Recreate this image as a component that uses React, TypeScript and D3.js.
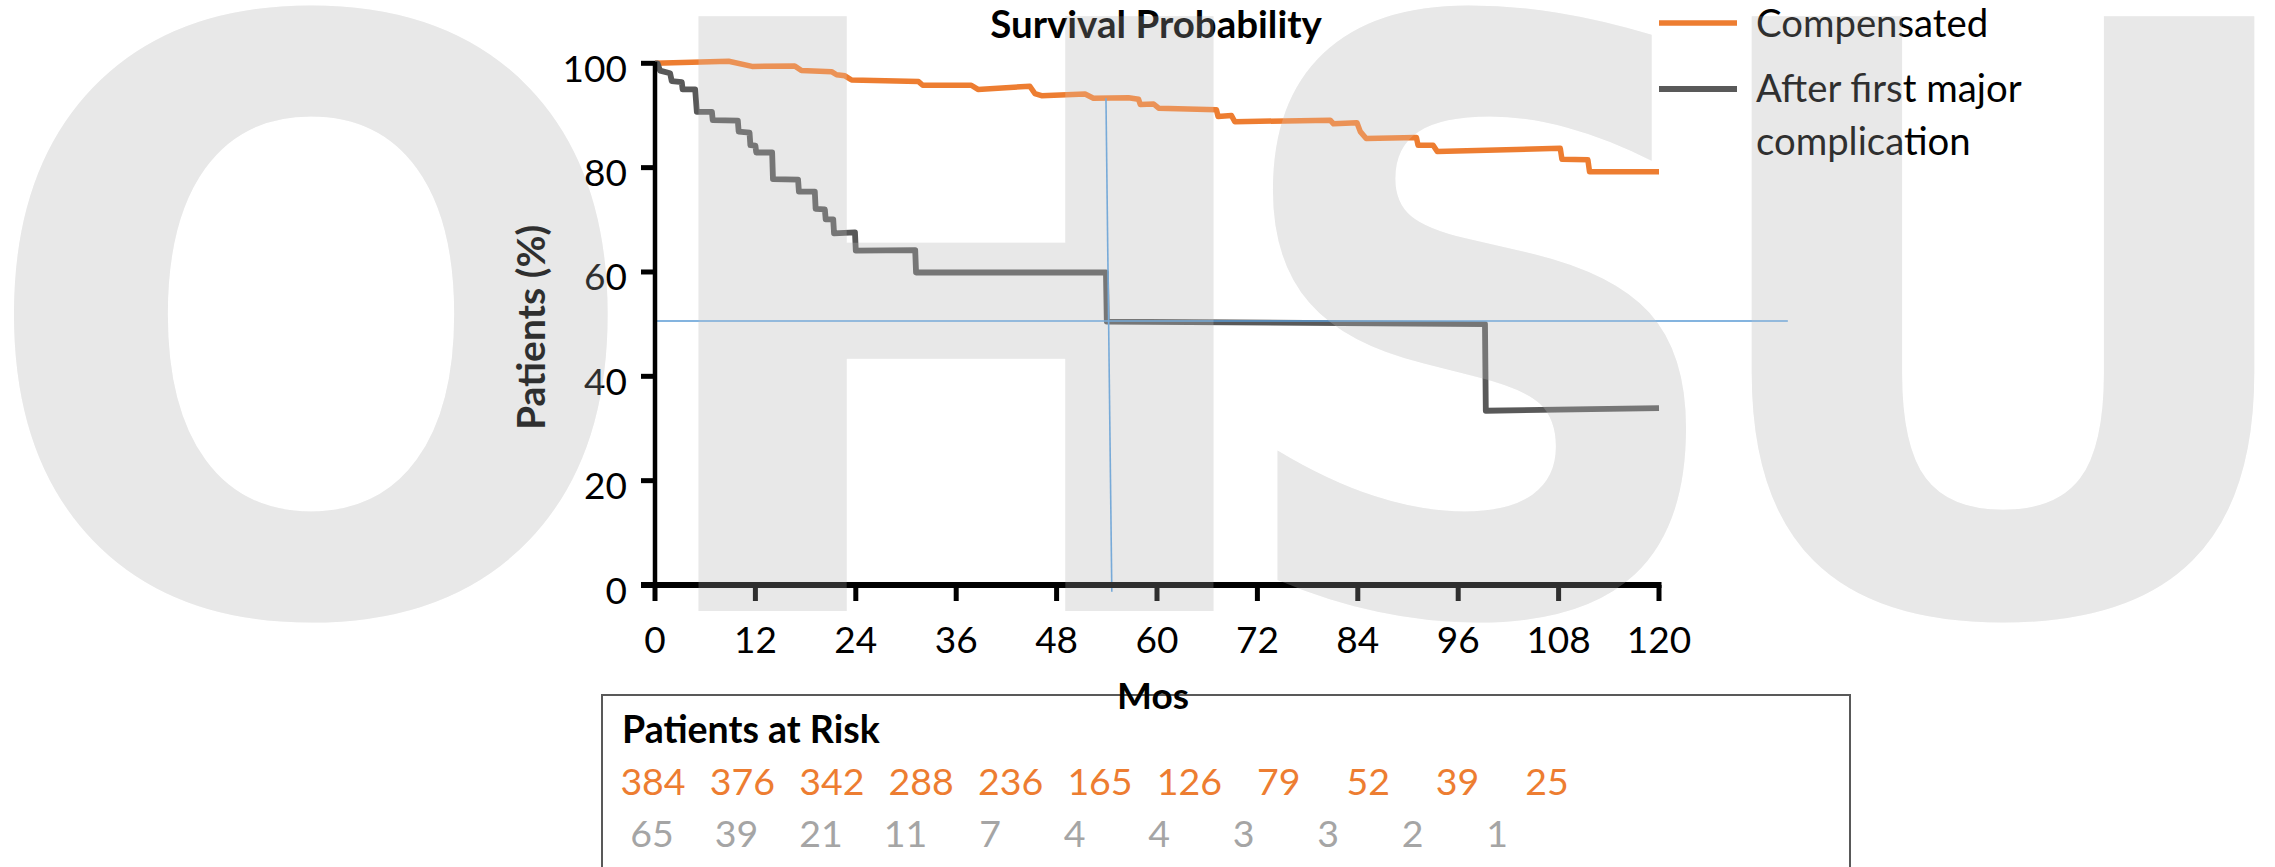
import React from 'react';
import * as d3 from 'd3';

// ---------- data ----------
const monthTicks = [0, 12, 24, 36, 48, 60, 72, 84, 96, 108, 120];
const percentTicks = [0, 20, 40, 60, 80, 100];

const seriesNames = ['Compensated', 'After first major complication'];

const compensatedMonths = [0, 8.8, 11.6, 16.7, 17.5, 21.1, 21.7, 22.7, 23.5, 31.5, 32.0, 37.8, 38.6, 44.8, 45.4, 46.2, 51.4, 52.4, 56.6, 57.8, 58.0, 59.6, 60.2, 67.1, 67.3, 68.9, 69.3, 80.7, 81.1, 83.9, 84.3, 85.0, 91.0, 91.2, 93.0, 93.5, 108.2, 108.4, 111.5, 111.7, 120];
const compensatedSurvival = [100, 100.4, 99.4, 99.5, 98.6, 98.4, 97.8, 97.6, 96.8, 96.5, 95.8, 95.8, 95.0, 95.6, 94.2, 93.8, 94.1, 93.3, 93.4, 93.1, 92.1, 92.2, 91.4, 91.1, 89.8, 90.0, 88.8, 89.1, 88.4, 88.6, 86.9, 85.6, 85.8, 84.3, 84.3, 83.1, 83.7, 81.6, 81.5, 79.2, 79.2];

const complicationMonths = [0, 0.3, 0.6, 1.8, 2.0, 3.2, 3.3, 4.8, 5.0, 6.8, 6.9, 9.9, 10.0, 11.3, 11.4, 12.0, 12.1, 14.0, 14.1, 17.1, 17.2, 19.1, 19.2, 20.3, 20.4, 21.3, 21.4, 23.9, 24.0, 31.1, 31.2, 53.9, 54.0, 99.2, 99.3, 120];
const complicationSurvival = [100, 100, 98.6, 98.1, 96.6, 96.4, 95.0, 95.0, 90.7, 90.7, 89.1, 89.0, 86.9, 86.7, 84.3, 84.2, 82.9, 82.9, 77.8, 77.7, 75.4, 75.4, 72.1, 72.0, 70.1, 70.1, 67.4, 67.6, 64.1, 64.2, 59.9, 59.9, 50.5, 50.0, 33.4, 33.9];

// hand-drawn median guide lines
const medianHMonths = [0, 135.4];
const medianHValues = [50.6, 50.6];
const medianVMonths = [53.9, 54.6];
const medianVValues = [93.3, -1.3];

const atRiskCompensated = [384, 376, 342, 288, 236, 165, 126, 79, 52, 39, 25];
const atRiskComplication = [65, 39, 21, 11, 7, 4, 4, 3, 3, 2, 1];

const watermarkLetters = ['O', 'H', 'S', 'U'];

// ---------- layout ----------
const W = 2275;
const H = 867;
const plot = { left: 655, right: 1659, top: 63.3, bottom: 585 };
const ORANGE = '#ED7D31';
const DARK = '#595959';
const LIGHTGRAY = '#A5A5A5';
const BLUE = '#5B9BD5';
const FONT = "Lato, 'Open Sans', sans-serif";

const wmLayout = [
  { cx: 311, sx: 0.97 },
  { cx: 956, sx: 0.966 },
  { cx: 1480, sx: 0.88 },
  { cx: 2003, sx: 0.98 },
];

function Watermark({ opacity }: { opacity: number }) {
  return (
    <g fill="#e8e8e8" opacity={opacity} fontFamily="'DejaVu Sans'" fontWeight="bold" fontSize={816} textAnchor="middle">
      {watermarkLetters.map((l, i) => (
        <text key={l} transform={`translate(${wmLayout[i].cx},611) scale(${wmLayout[i].sx},1)`}>{l}</text>
      ))}
    </g>
  );
}

export default function App() {
  const x = d3.scaleLinear().domain([0, 120]).range([plot.left, plot.right]);
  const y = d3.scaleLinear().domain([0, 100]).range([plot.bottom, plot.top]);
  const line = d3.line<[number, number]>().x(d => x(d[0])).y(d => y(d[1]));

  const comp = compensatedMonths.map((m, i) => [m, compensatedSurvival[i]] as [number, number]);
  const cmpl = complicationMonths.map((m, i) => [m, complicationSurvival[i]] as [number, number]);
  const mh = medianHMonths.map((m, i) => [m, medianHValues[i]] as [number, number]);
  const mv = medianVMonths.map((m, i) => [m, medianVValues[i]] as [number, number]);

  const riskX1 = d3.scaleLinear().domain([0, atRiskCompensated.length - 1]).range([653, 1547]);
  const riskX2 = d3.scaleLinear().domain([0, atRiskComplication.length - 1]).range([652, 1497]);

  return (
    <svg width={W} height={H} style={{ position: 'absolute', left: 0, top: 0, background: '#fff' }} fontFamily={FONT}>
      <rect x={0} y={0} width={W} height={H} fill="#fff" />
      <Watermark opacity={1} />

      {/* title */}
      <text x={1156} y={38} textAnchor="middle" fontWeight="bold" fontSize={38.5} fill="#000">Survival Probability</text>

      {/* series */}
      <path d={line(comp) || ''} fill="none" stroke={ORANGE} strokeWidth={5.5} strokeLinejoin="round" />
      <path d={line(cmpl) || ''} fill="none" stroke={DARK} strokeWidth={5.8} strokeLinejoin="round" />

      {/* median guides */}
      <path d={line(mh) || ''} fill="none" stroke={BLUE} strokeWidth={1.6} />
      <path d={line(mv) || ''} fill="none" stroke={BLUE} strokeWidth={1.6} />

      {/* y axis */}
      <line x1={x(0)} x2={x(0)} y1={y(100) - 1.5} y2={y(0)} stroke="#000" strokeWidth={4.5} />
      {percentTicks.map(t => (
        <g key={t}>
          <line x1={x(0) - 14} x2={x(0)} y1={y(t)} y2={y(t)} stroke="#000" strokeWidth={5} />
          <text x={627} y={y(t) + 4} dominantBaseline="central" textAnchor="end" fontSize={37} fill="#000">{t}</text>
        </g>
      ))}
      {/* x axis */}
      <line x1={x(0) - 14} x2={x(120) + 2.5} y1={y(0)} y2={y(0)} stroke="#000" strokeWidth={6} />
      {monthTicks.map(t => (
        <g key={t}>
          <line x1={x(t)} x2={x(t)} y1={y(0)} y2={y(0) + 16} stroke="#000" strokeWidth={5} />
          <text x={x(t)} y={653} textAnchor="middle" fontSize={37} fill="#000">{t}</text>
        </g>
      ))}

      {/* axis titles */}
      <text transform={`translate(545,${(220 + 427) / 2 + 4}) rotate(-90)`} textAnchor="middle" fontWeight="bold" fontSize={39} fill="#000">Patients (%)</text>

      {/* legend */}
      <line x1={1659} x2={1737} y1={23} y2={23} stroke={ORANGE} strokeWidth={5.5} />
      <line x1={1659} x2={1737} y1={89} y2={89} stroke={DARK} strokeWidth={5.8} />
      <text x={1756} y={37} fontSize={38.3} fill="#000">{seriesNames[0]}</text>
      <text x={1756} y={102} fontSize={38.3} fill="#000">After first major</text>
      <text x={1756} y={155} fontSize={38.3} fill="#000">complication</text>

      {/* at-risk box */}
      <rect x={602} y={695} width={1248} height={300} fill="none" stroke={DARK} strokeWidth={2} />
      <text x={1153} y={709} textAnchor="middle" fontWeight="bold" fontSize={37} fill="#000">Mos</text>
      <text x={622} y={743} fontWeight="bold" fontSize={37.5} fill="#000">Patients at Risk</text>
      {atRiskCompensated.map((n, i) => (
        <text key={'c' + i} x={riskX1(i)} y={795} textAnchor="middle" fontSize={37.5} fill={ORANGE}>{n}</text>
      ))}
      {atRiskComplication.map((n, i) => (
        <text key={'g' + i} x={riskX2(i)} y={847} textAnchor="middle" fontSize={37.5} fill={LIGHTGRAY}>{n}</text>
      ))}

      <Watermark opacity={0.2} />
    </svg>
  );
}
